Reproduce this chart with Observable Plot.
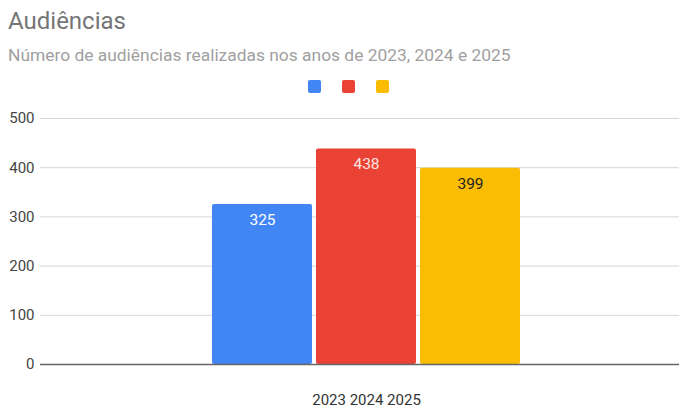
<!DOCTYPE html>
<html>
<head>
<meta charset="utf-8">
<script src="https://cdn.jsdelivr.net/npm/d3@7"></script>
<script src="https://cdn.jsdelivr.net/npm/@observablehq/plot@0.6"></script>
<style>
  body { margin: 0; background: #fff; font-family: Roboto, "Noto Sans", sans-serif; }
  #wrap { position: relative; width: 679px; height: 408px; overflow: hidden; }
  #title { position: absolute; left: 8px; top: 7px; font-size: 24px; color: #757575; line-height: 28px; }
  #subtitle { position: absolute; left: 8px; top: 45px; font-size: 17.4px; color: #a0a0a0; line-height: 20px; }
  #legend { position: absolute; top: 80px; left: 0; }
  .sw { position: absolute; width: 13px; height: 13px; border-radius: 2px; }
  #chart { position: absolute; left: 0; top: 100px; }
</style>
</head>
<body>
<div id="wrap">
  <div id="title"></div>
  <div id="subtitle"></div>
  <div id="legend"></div>
  <div id="chart"></div>
</div>
<script>
const title = "Audiências";
const subtitle = "Número de audiências realizadas nos anos de 2023, 2024 e 2025";
const years = ["2023", "2024", "2025"];
const values = [325, 438, 399];
const colors = ["#4285F4", "#EA4335", "#FBBC04"];
const labelColors = ["#ffffff", "#fde3e0", "#222222"];
const categoryLabel = "2023 2024 2025";
const yTicks = [0, 100, 200, 300, 400, 500];

document.getElementById("title").textContent = title;
document.getElementById("subtitle").textContent = subtitle;
const legend = document.getElementById("legend");
colors.forEach((c, i) => {
  const d = document.createElement("div");
  d.className = "sw";
  d.style.background = c;
  d.style.left = (308 + i * 34) + "px";
  legend.appendChild(d);
});

const data = years.map((y, i) => ({year: y, value: values[i], color: colors[i], lc: labelColors[i]}));

const chart = Plot.plot({
  width: 679,
  height: 308,
  marginTop: 18,
  marginBottom: 44,
  marginLeft: 40,
  marginRight: 0,
  style: {fontFamily: "Roboto, sans-serif", fontSize: "15px", color: "#444", background: "transparent"},
  x: {domain: years, range: [211, 521], paddingInner: 0.038, paddingOuter: 0, axis: null},
  y: {domain: [0, 500], ticks: yTicks, tickSize: 0, tickPadding: 6, label: null, grid: false},
  marks: [
    Plot.ruleY(yTicks.filter(t => t > 0), {stroke: "#d6d6d6", strokeWidth: 1}),
    Plot.barY(data, {x: "year", y: "value", fill: "color", rx: 2}),
    Plot.ruleY([0], {stroke: "#666", strokeWidth: 1.5}),
    Plot.text(data, {x: "year", y: "value", text: d => String(d.value), fill: "lc", dy: 15.5, fontSize: 15.5}),
    Plot.text([{x: years[1], label: categoryLabel}], {x: "x", text: "label", frameAnchor: "bottom", lineAnchor: "middle", dy: 36, fill: "#333", fontSize: 15}),
    Plot.axisY({ticks: yTicks, tickSize: 0, tickPadding: 6, fill: "#444", fontSize: 15})
  ]
});
document.getElementById("chart").appendChild(chart);
</script>
</body>
</html>
